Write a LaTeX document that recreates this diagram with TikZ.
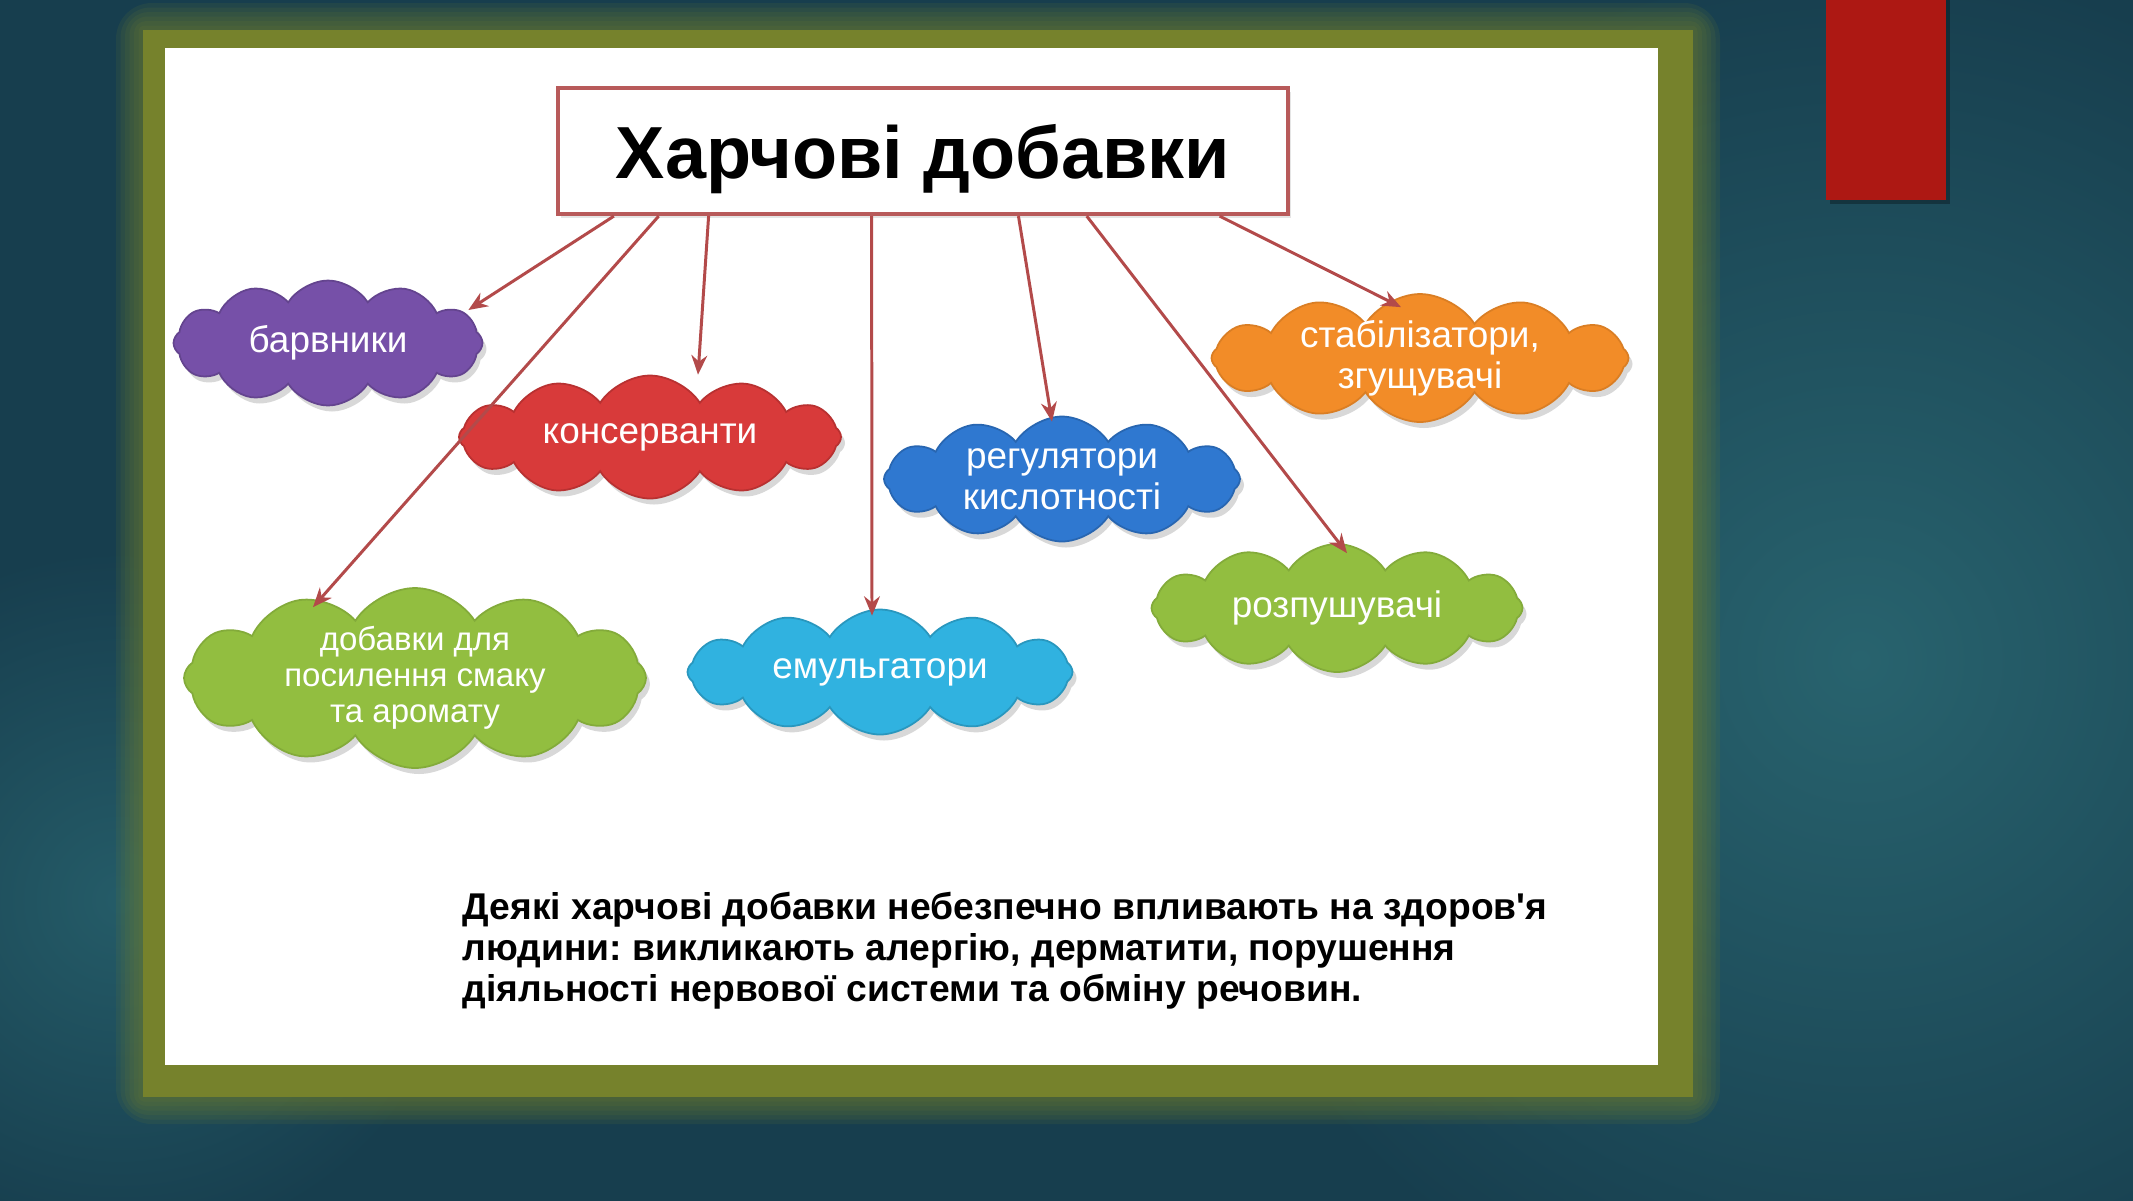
\documentclass[tikz,border=0pt]{standalone}
\usepackage{fontspec}
\setmainfont{Liberation Sans}
\usetikzlibrary{shapes.symbols,arrows.meta,calc,shadows}

\definecolor{slidebg}{HTML}{173E4E}
\definecolor{slidelight}{HTML}{28636E}
\definecolor{frameolive}{HTML}{76822C}
\definecolor{tabred}{HTML}{AD1813}
\definecolor{linkred}{HTML}{B34A4A}
\definecolor{boxred}{HTML}{B85A5A}
\definecolor{purplepuff}{HTML}{7650A8}
\definecolor{redpuff}{HTML}{D83A3A}
\definecolor{bluepuff}{HTML}{2F78D0}
\definecolor{orangepuff}{HTML}{F28C28}
\definecolor{greenpuff}{HTML}{92BE40}
\definecolor{cyanpuff}{HTML}{30B2E0}

\tikzset{
  puff/.style={cloud, cloud puffs=12, cloud puff arc=115, cloud ignores aspect,
    inner sep=0pt, align=center, text=white, line width=0.5pt,
    font=\fontsize{10.5}{11.6}\selectfont,
    drop shadow={shadow xshift=0.04cm, shadow yshift=-0.06cm, opacity=0.3}},
  feed/.style={draw=linkred, line width=0.85pt, -{Stealth[length=5.5pt,width=4.5pt]}},
}

\begin{document}
\frenchspacing
\begin{tikzpicture}

    \useasboundingbox (0,0) rectangle (21.33,-12);

    % --- Slide background ---
    \fill[slidebg] (-0.5,0.5) rectangle (21.8,-12.5);
    \shade[inner color=slidelight, outer color=slidebg] (18.6,-6.6) circle (7);
    \shade[inner color=slidelight!80!slidebg, outer color=slidebg] (1.2,-9.0) circle (3.5);

    % --- Olive frame with glow ---
    \foreach \g in {1,...,6}
      \fill[frameolive, opacity=0.12, rounded corners=\g*0.06cm]
        ({1.43-\g*0.045},{-0.30+\g*0.045}) rectangle ({16.93+\g*0.045},{-10.97-\g*0.045});
    \fill[frameolive] (1.43,-0.30) rectangle (16.93,-10.97);
    \fill[white] (1.65,-0.48) rectangle (16.58,-10.65);

    % --- Red tab ---
    \fill[black, opacity=0.3] (18.30,0) rectangle (19.50,-2.04);
    \fill[tabred] (18.26,0) rectangle (19.46,-2.0);

    % --- Title ---
    \node[draw=boxred, fill=white, line width=1.2pt, minimum width=7.30cm, minimum height=1.26cm,
          text depth=0pt, font=\bfseries\fontsize{21}{25}\selectfont,
          drop shadow={shadow xshift=0.03cm, shadow yshift=-0.04cm, opacity=0.2}]
      (title) at (9.23,-1.51) {Харчові добавки};

    % --- Clouds ---
    \node[puff, fill=purplepuff, draw=purplepuff!85!black, minimum width=3.09cm, minimum height=1.25cm]
      (barv) at (3.28,-3.43) {барвники};
    \node[puff, fill=redpuff, draw=redpuff!85!black, minimum width=3.82cm, minimum height=1.23cm]
      (kons) at (6.50,-4.37) {консерванти};
    \node[puff, fill=bluepuff, draw=bluepuff!85!black, minimum width=3.56cm, minimum height=1.25cm]
      (reg) at (10.62,-4.79) {регулятори\\кислотності};
    \node[puff, fill=orangepuff, draw=orangepuff!90!black, minimum width=4.17cm, minimum height=1.28cm,
          inner ysep=-4pt]
      (stab) at (14.20,-3.58) {стабілізатори,\\згущувачі};
    \node[puff, fill=greenpuff, draw=greenpuff!90!black, minimum width=4.62cm, minimum height=1.80cm,
          inner ysep=-3pt, font=\fontsize{9.4}{10.3}\selectfont]
      (dob) at (4.15,-6.78) {добавки для\\посилення смаку\\та аромату};
    \node[puff, fill=cyanpuff, draw=cyanpuff!85!black, minimum width=3.85cm, minimum height=1.25cm]
      (emul) at (8.80,-6.72) {емульгатори};
    \node[puff, fill=greenpuff, draw=greenpuff!90!black, minimum width=3.71cm, minimum height=1.28cm]
      (rozp) at (13.37,-6.08) {розпушувачі};

    % --- Arrows from title ---
    \draw[feed] ($(title.south west)!0.079!(title.south east)$) -- ([shift={(-0.15,0.33)}]barv.east);
    \draw[feed] ($(title.south west)!0.140!(title.south east)$) -- ([shift={(-1.02,-0.20)}]dob.north);
    \draw[feed] ($(title.south west)!0.208!(title.south east)$) -- ([xshift=0.48cm]kons.north);
    \draw[feed] ($(title.south west)!0.430!(title.south east)$) -- ([shift={(-0.08,-0.07)}]emul.north);
    \draw[feed] ($(title.south west)!0.630!(title.south east)$) -- ([shift={(-0.10,-0.06)}]reg.north);
    \draw[feed] ($(title.south west)!0.723!(title.south east)$) -- ([shift={(0.10,-0.10)}]rozp.north);
    \draw[feed] ($(title.south west)!0.904!(title.south east)$) -- ([shift={(-0.19,-0.14)}]stab.north);

    % --- Note ---
    \node[anchor=north west, align=left, inner sep=0pt, font=\bfseries\fontsize{10.6}{11.7}\selectfont]
      (note) at (4.62,-8.91)
      {Деякі харчові добавки небезпечно впливають на здоров\textquotesingle я\\
       людини: викликають алергію, дерматити, порушення\\
       діяльності нервової системи та обміну речовин.};

\end{tikzpicture}
\end{document}
